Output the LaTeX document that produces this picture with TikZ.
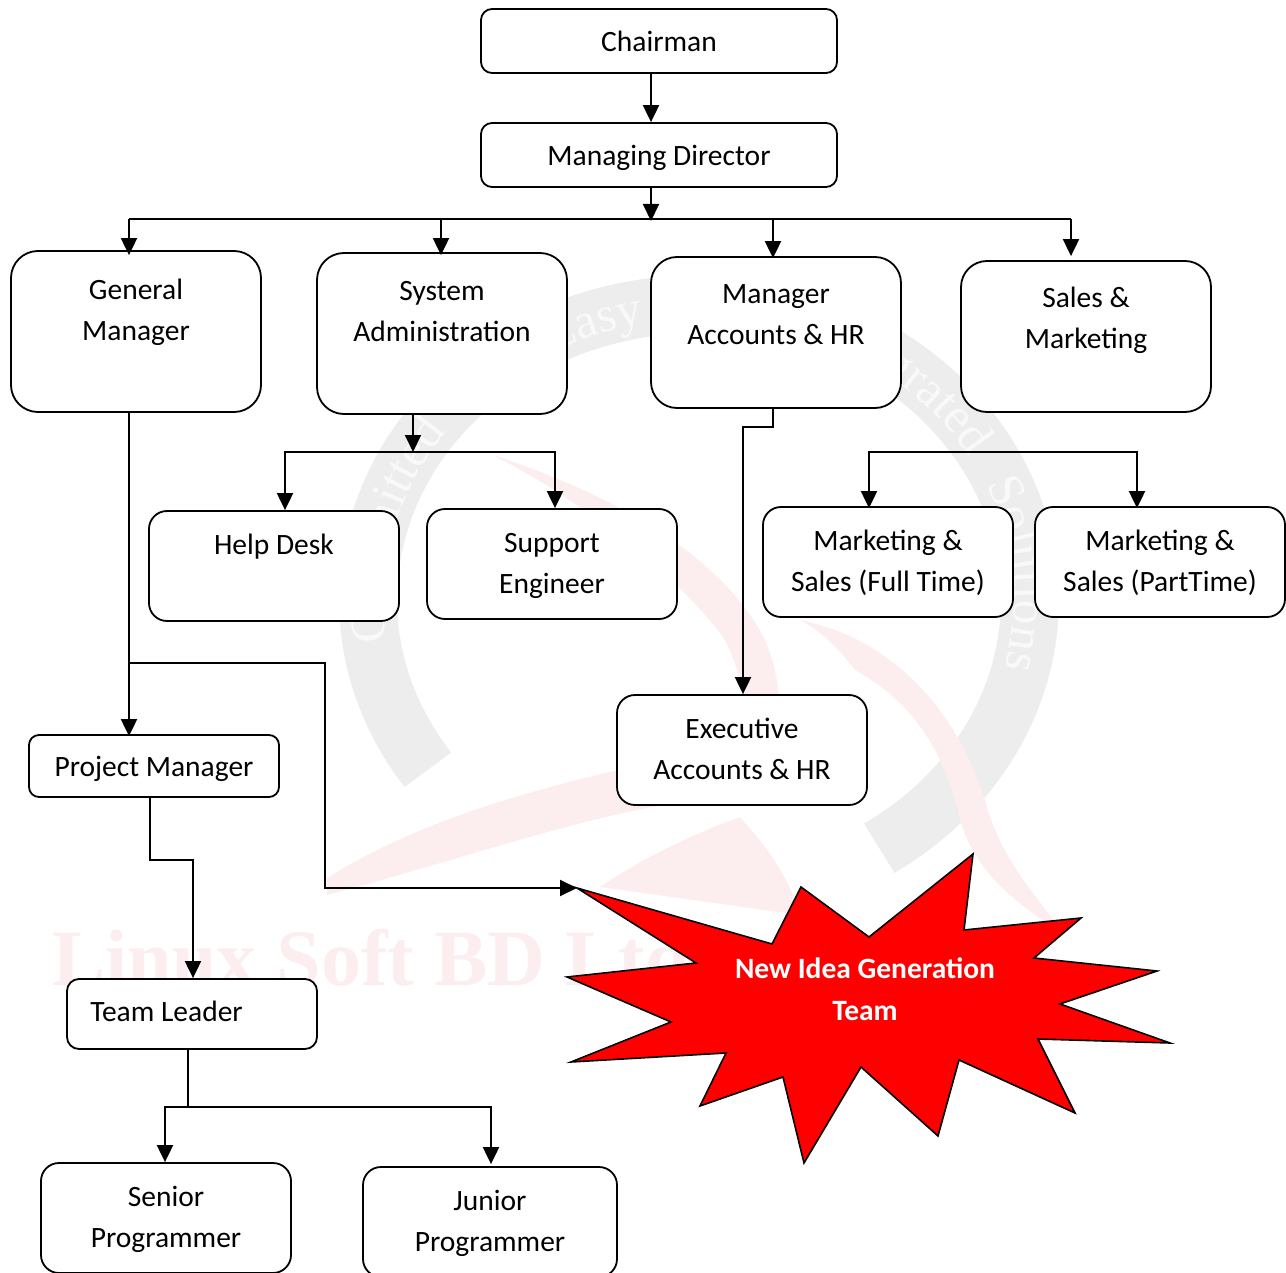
\documentclass[tikz,border=0pt]{standalone}
\usepackage{fontspec}
\setmainfont{Carlito}
\newfontfamily\wmfont{Liberation Serif}
\usetikzlibrary{arrows.meta,decorations.text}
\definecolor{wmgrey}{HTML}{EDEDED}
\definecolor{wmred}{HTML}{FCEEEE}
\definecolor{wmtext}{HTML}{F9F9F9}
\tikzset{
  orgbox/.style={draw,fill=white,line width=1.8pt,rounded corners=#1,minimum width=250,
    inner sep=0pt,align=center,font=\fontsize{29.5}{41}\selectfont,
    text height=64pt,text depth=6pt},
  oneline/.style={text height=27pt,text depth=6pt},
  threeline/.style={text height=113pt,text depth=6pt},
  link/.style={line width=2pt,-{Triangle[length=17pt,width=16pt]}},
  wire/.style={line width=2pt},
  burst/.style={draw,fill=red,line width=1.6pt,line join=miter},
  bursttext/.style={text=white,align=center,font=\fontsize{29.5}{42}\selectfont\bfseries},
  ringtext/.style={decorate,decoration={text along path,text align=center,
    text={|\fontsize{50}{50}\wmfont\color{wmtext}|#1}}}
}
\begin{document}
\begin{tikzpicture}[x=1pt,y=-1pt]
\useasboundingbox (0,0) rectangle (1286,1273);
% watermark
\draw[wmgrey,line width=58pt,domain=215:-57,samples=90]
  plot ({699+331*cos(\x)},{600-296*sin(\x)});
\path[ringtext={Committed},domain=194:138,samples=40] plot ({699+315*cos(\x)},{600-280*sin(\x)});
\path[ringtext={Easy},domain=122:96,samples=20] plot ({699+315*cos(\x)},{600-280*sin(\x)});
\path[ringtext={Integrated},domain=72:28,samples=30] plot ({699+315*cos(\x)},{600-280*sin(\x)});
\path[ringtext={Solutions},domain=32:-22,samples=40] plot ({699+315*cos(\x)},{600-280*sin(\x)});
\fill[wmred] (493,455) .. controls (600,490) and (720,550) .. (765,640)
  .. controls (790,700) and (780,750) .. (745,795)
  .. controls (750,720) and (745,680) .. (725,640)
  .. controls (690,590) and (600,510) .. (493,455) -- cycle;
\fill[wmred] (800,620) .. controls (900,640) and (960,720) .. (985,800)
  .. controls (1000,860) and (1040,900) .. (1065,935)
  .. controls (1010,900) and (975,870) .. (960,820)
  .. controls (945,750) and (910,700) .. (855,670)
  .. controls (840,650) and (820,630) .. (800,620) -- cycle;
\fill[wmred] (327,878) .. controls (420,820) and (530,790) .. (640,765)
  .. controls (690,755) and (720,760) .. (735,770) -- (700,800)
  .. controls (600,810) and (460,860) .. (327,895) -- cycle;
\fill[wmred] (740,817) .. controls (770,850) and (790,880) .. (800,915)
  -- (600,887) .. controls (640,860) and (690,835) .. (740,817) -- cycle;
\node[anchor=west,inner sep=0pt,text=wmred,font=\fontsize{80}{80}\wmfont\bfseries] (wmname) at (52,958) {Linux Soft BD Ltd};
% boxes
\node[orgbox=11,oneline,minimum width=356,minimum height=64] (chairman) at (659,41) {Chairman};
\node[orgbox=11,oneline,minimum width=356,minimum height=64] (md) at (659,155) {Managing Director};
\node[orgbox=27,threeline,minimum height=161] (gm) at (136,331.5) {General\\Manager\\[4pt]\mbox{}};
\node[orgbox=27,threeline,minimum height=161] (sysadm) at (442,333.5) {System\\Administration\\[4pt]\mbox{}};
\node[orgbox=26,threeline,minimum height=151] (mgrhr) at (776,332.5) {Manager\\Accounts \& HR\\\mbox{}};
\node[orgbox=26,threeline,minimum height=151] (sales) at (1086,336.5) {Sales \&\\Marketing\\\mbox{}};
\node[orgbox=18,minimum height=110] (helpdesk) at (274,566) {Help Desk\\\mbox{}};
\node[orgbox=18,minimum height=110] (support) at (552,564) {Support\\Engineer};
\node[orgbox=18,minimum height=110] (mktfull) at (888,562) {Marketing \&\\Sales (Full Time)};
\node[orgbox=18,minimum height=110] (mktpart) at (1160,562) {Marketing \&\\Sales (PartTime)};
\node[orgbox=18,minimum height=110] (exechr) at (742,750) {Executive\\Accounts \& HR};
\node[orgbox=10,oneline,minimum height=62] (pm) at (154,766) {Project Manager};
\node[orgbox=12,oneline,minimum height=70] (tl) at (192,1014) {\raisebox{3pt}{Team Leader}\hspace*{51pt}};
\node[orgbox=18,minimum height=110] (senior) at (166,1218) {Senior\\Programmer};
\node[orgbox=18,minimum width=254,minimum height=110] (junior) at (490,1222) {Junior\\Programmer};
% burst
\coordinate (bursttip) at (577,888);
\draw[burst] (bursttip) -- (772,944) -- (801,887) -- (869,937) -- (973,854) -- (964,930)
  -- (1081,918) -- (1034,958) -- (1157,971) -- (1060,1004) -- (1170,1043) -- (1038,1039)
  -- (1075,1113) -- (959,1060) -- (938,1136) -- (861,1067) -- (804,1163) -- (783,1077)
  -- (700,1106) -- (726,1053) -- (571,1062) -- (671,1022) -- (567,977) -- (696,963) -- cycle;
\node[bursttext] (idea) at (865,989) {New Idea Generation\\Team};
% top of the tree
\coordinate (trunk) at (651,219);
\coordinate (busgm) at (129,219);
\coordinate (bussys) at (441,219);
\coordinate (busmgr) at (773,219);
\coordinate (bussales) at (1071,219);
\draw[link] (trunk |- chairman.south) -- (trunk |- md.north);
\draw[wire] (busgm) -- (bussales);
\draw[link,shorten >=-2pt] (trunk |- md.south) -- (trunk);
\draw[link,shorten >=-5pt] (busgm) -- (busgm |- gm.north);
\draw[link,shorten >=-3pt] (bussys) -- (bussys |- sysadm.north);
\draw[link,shorten >=-2pt] (busmgr) -- (busmgr |- mgrhr.north);
\draw[link,shorten >=4pt] (bussales) -- (bussales |- sales.north);
% general manager
\coordinate (gmleft) at (129,663);
\coordinate (gmturn) at (325,663);
\draw[link,shorten >=-2pt] (gmleft |- gm.south) -- (gmleft |- pm.north);
\draw[link] (gmleft) -- (gmturn) -- (gmturn |- bursttip) -- (bursttip);
% project manager, team leader
\coordinate (pmdown) at (150,860);
\coordinate (tlin) at (193,860);
\draw[link] (pmdown |- pm.south) -- (pmdown) -- (tlin) -- (tlin |- tl.north);
\coordinate (tlbus) at (188,1107);
\coordinate (seniorin) at (165,1107);
\coordinate (juniorin) at (491,1107);
\draw[wire] (tlbus |- tl.south) -- (tlbus);
\draw[link] (tlbus) -- (seniorin) -- (seniorin |- senior.north);
\draw[link,shorten >=2pt] (tlbus) -- (juniorin) -- (juniorin |- junior.north);
% system administration
\coordinate (sysbus) at (413,452);
\coordinate (helpin) at (285,452);
\coordinate (supportin) at (555,452);
\draw[link] (sysbus |- sysadm.south) -- (sysbus);
\draw[link] (sysbus) -- (helpin) -- (helpin |- helpdesk.north);
\draw[link] (sysbus) -- (supportin) -- (supportin |- support.north);
% manager accounts
\coordinate (mgrturn) at (773,427);
\coordinate (execin) at (743,427);
\draw[link] (mgrturn |- mgrhr.south) -- (mgrturn) -- (execin) -- (execin |- exechr.north);
% marketing
\coordinate (mktbus) at (1000,452);
\coordinate (fullin) at (869,452);
\coordinate (partin) at (1137,452);
\draw[link,shorten >=-2pt] (mktbus) -- (fullin) -- (fullin |- mktfull.north);
\draw[link,shorten >=-2pt] (mktbus) -- (partin) -- (partin |- mktpart.north);
\end{tikzpicture}
\end{document}
